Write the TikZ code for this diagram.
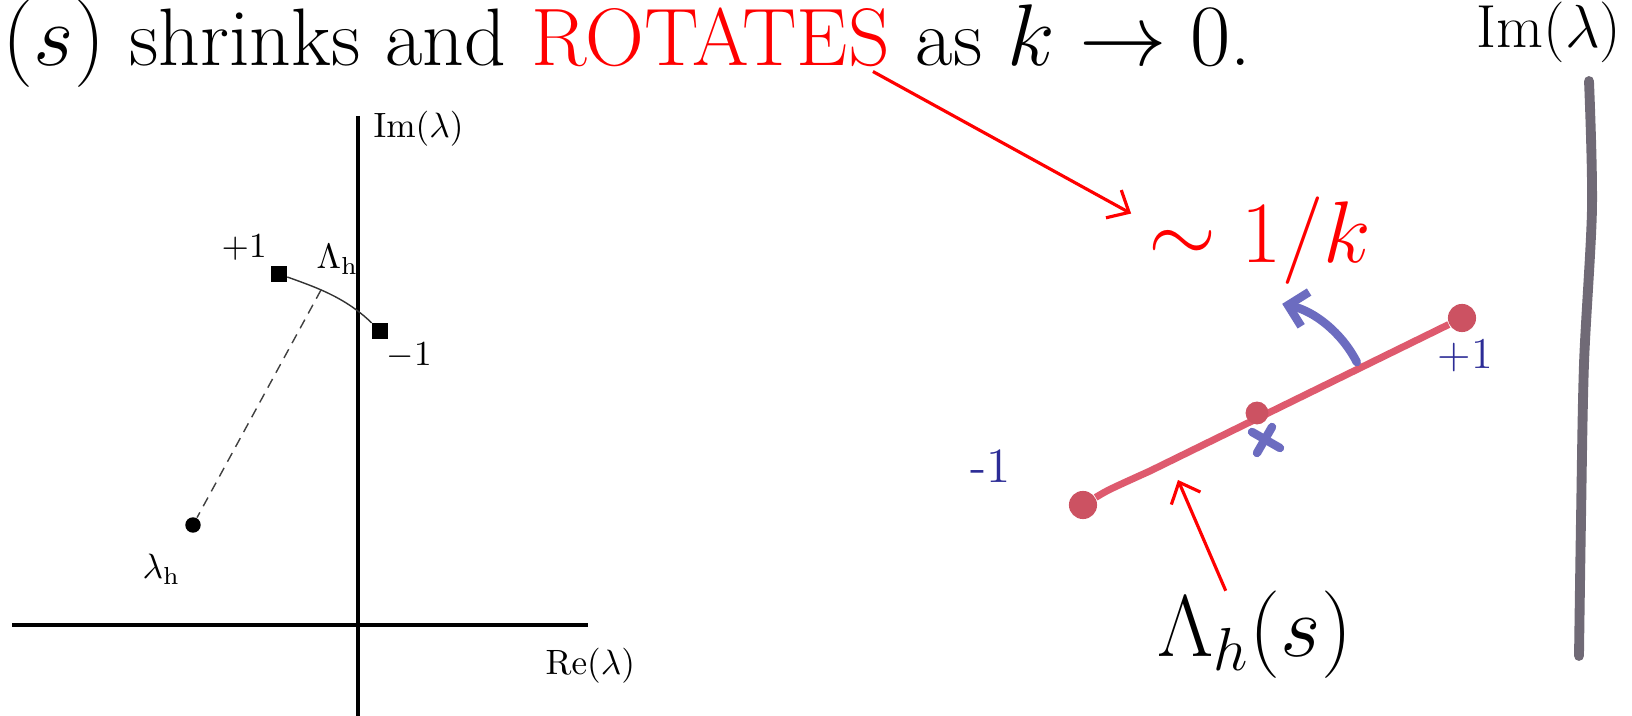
\documentclass[tikz,border=0pt]{standalone}
\usepackage{amsmath,amssymb}
\usepackage{xcolor}
\usepackage{tikz}
\usetikzlibrary{arrows.meta,positioning,calc}

\definecolor{inkred}{RGB}{222,90,110}
\definecolor{dotred}{RGB}{204,82,98}
\definecolor{inkblue}{RGB}{108,108,192}
\definecolor{numblue}{RGB}{44,44,150}
\definecolor{inkgray}{RGB}{112,106,118}

\begin{document}
\begin{tikzpicture}[x=0.01cm,y=-0.01cm,
  axis/.style={line width=1pt},
  lab/.style={inner sep=0pt,anchor=base west,font=\fontsize{10.3}{12}\selectfont},
  sq/.style={fill,inner sep=0pt,minimum size=4.3pt},
  head/.style={inner sep=0pt,anchor=base west,font=\fontsize{23.2}{28}\selectfont},
  big/.style={inner sep=0pt,anchor=base west,font=\fontsize{24}{28}\selectfont},
  num/.style={inner sep=0pt,anchor=base west,text=numblue,font=\fontsize{12.5}{14}\selectfont},
  reddot/.style={circle,fill=dotred,inner sep=0pt,minimum size=8pt},
  redarrow/.style={-{Straight Barb[length=5pt,width=9pt]},red,line width=0.9pt},
  blueink/.style={inkblue,line width=2.4pt,line cap=round}]
  \useasboundingbox[fill=white] (0,0) rectangle (1632,716);

  % heading
  \node[head] (shr) at (2,66) {$(s)$ shrinks and};
  \node[head,text=red,right=0pt of shr.base east,anchor=base west] (rot) {\ ROTATES};
  \node[head,right=0pt of rot.base east,anchor=base west] (ask) {\ as $k\to0$.};
  \node[inner sep=0pt,anchor=base west,font=\fontsize{16.5}{20}\selectfont] (imr) at (1476,48) {$\mathrm{Im}(\lambda)$};

  % left plot
  \draw[axis] (12,625) -- (588,625);
  \draw[axis] (358,116) -- (358,716);
  \node[lab] (imlab) at (373,138) {$\mathrm{Im}(\lambda)$};
  \node[lab] (relab) at (545,675) {$\mathrm{Re}(\lambda)$};
  \node[sq] (sqp) at (279,274) {};
  \node[sq] (sqm) at (380,331) {};
  \node[circle,fill,inner sep=0pt,minimum size=4.4pt] (lh) at (193,525) {};
  \node[lab] (plab) at (221,258) {$+1$};
  \node[lab] (Lab) at (316,269) {$\Lambda_{\mathrm{h}}$};
  \node[lab] (mlab) at (386,366) {$-1$};
  \node[lab] (llab) at (142,579) {$\lambda_{\mathrm{h}}$};
  \coordinate (foot) at (321,290);
  \draw[black!80,line width=0.4pt] (sqp) .. controls (315,287) and (345,297) .. (sqm);
  \draw[black!75,line width=0.4pt,dash pattern=on 2.8pt off 2pt] (foot) -- (lh);

  % right sketch
  \node[reddot] (lo) at (1083,505) {};
  \node[reddot] (hi) at (1462,318) {};
  \draw[inkred,line width=2pt] (lo) .. controls (1108,490) .. (1150,471) -- (hi);
  \node[reddot,minimum size=6.5pt] (mid) at (1257,413) {};
  \node[num] (pone) at (1437,369) {+1};
  \node[num,font=\fontsize{14}{16}\selectfont] (mone) at (970,483) {-1};
  \draw[blueink,-{Straight Barb[length=5pt,width=10pt]}] ($(mid)+(-27:112)$) arc[start angle=-27,end angle=-77,radius=112];
  \coordinate (xc) at (1266,440);
  \draw[blueink] ($(xc)+(-14,-8)$) -- ($(xc)+(14,8)$);
  \draw[blueink] ($(xc)+(6,-13)$) -- ($(xc)+(-9,13)$);

  \node[big,text=red] (sim) at (1148,263) {$\sim 1/k$};
  \node[big] (lam) at (1157,657) {$\Lambda_h(s)$};
  \coordinate (hit) at (1178,480);
  \draw[redarrow] ([xshift=-5pt,yshift=-1pt]rot.south east) -- ([xshift=-4.8pt,yshift=-4.8pt]sim.north west);
  \draw[redarrow] ([xshift=-8.3pt]lam.north) -- (hit);

  % imaginary axis
  \draw[inkgray,line width=2.8pt,line cap=round] plot[smooth] coordinates {(1589,81) (1592,208) (1584,364) (1581,520) (1579,656)};
\end{tikzpicture}
\end{document}
